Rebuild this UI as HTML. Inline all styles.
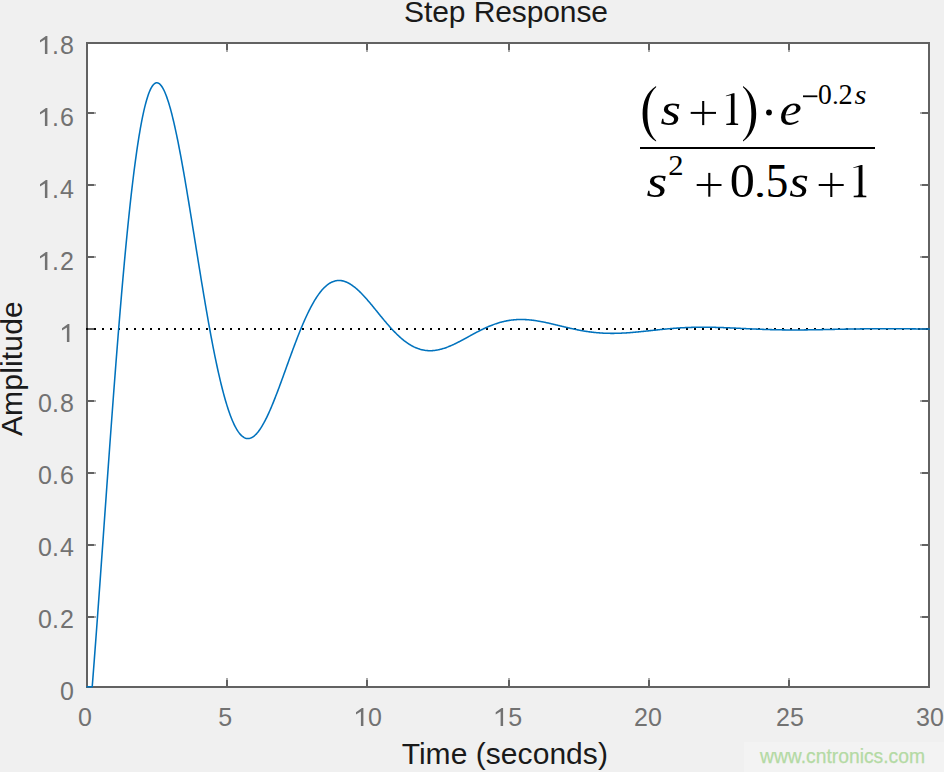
<!DOCTYPE html>
<html><head><meta charset="utf-8"><style>
html,body{margin:0;padding:0;background:#f0f0f0;width:944px;height:772px;overflow:hidden}
svg{display:block}
.tl{font-family:"Liberation Sans",sans-serif;font-size:25px;fill:#727272}
.tt{font-family:"Liberation Sans",sans-serif;font-size:30px;fill:#1a1a1a}
.wm{font-family:"Liberation Sans",sans-serif;font-size:19.3px;fill:#b4daa4;stroke:#b4daa4;stroke-width:0.25px}
.fm text{font-family:"Liberation Serif",serif} .fm{fill:#000}
</style></head><body>
<svg width="944" height="772" viewBox="0 0 944 772">
<rect x="86" y="42" width="844" height="646" fill="#ffffff"/>
<rect x="226" y="680" width="2" height="6" fill="#626262"/>
<rect x="226" y="678" width="2" height="2" fill="#aaaaaa"/>
<rect x="226" y="44" width="2" height="6" fill="#626262"/>
<rect x="226" y="50" width="2" height="2" fill="#aaaaaa"/>
<rect x="366" y="680" width="2" height="6" fill="#626262"/>
<rect x="366" y="678" width="2" height="2" fill="#aaaaaa"/>
<rect x="366" y="44" width="2" height="6" fill="#626262"/>
<rect x="366" y="50" width="2" height="2" fill="#aaaaaa"/>
<rect x="508" y="680" width="2" height="6" fill="#626262"/>
<rect x="508" y="678" width="2" height="2" fill="#aaaaaa"/>
<rect x="508" y="44" width="2" height="6" fill="#626262"/>
<rect x="508" y="50" width="2" height="2" fill="#aaaaaa"/>
<rect x="648" y="680" width="2" height="6" fill="#626262"/>
<rect x="648" y="678" width="2" height="2" fill="#aaaaaa"/>
<rect x="648" y="44" width="2" height="6" fill="#626262"/>
<rect x="648" y="50" width="2" height="2" fill="#aaaaaa"/>
<rect x="788" y="680" width="2" height="6" fill="#626262"/>
<rect x="788" y="678" width="2" height="2" fill="#aaaaaa"/>
<rect x="788" y="44" width="2" height="6" fill="#626262"/>
<rect x="788" y="50" width="2" height="2" fill="#aaaaaa"/>
<rect x="88" y="616" width="6" height="2" fill="#626262"/>
<rect x="94" y="616" width="2" height="2" fill="#aaaaaa"/>
<rect x="922" y="616" width="6" height="2" fill="#626262"/>
<rect x="920" y="616" width="2" height="2" fill="#aaaaaa"/>
<rect x="88" y="544" width="6" height="2" fill="#626262"/>
<rect x="94" y="544" width="2" height="2" fill="#aaaaaa"/>
<rect x="922" y="544" width="6" height="2" fill="#626262"/>
<rect x="920" y="544" width="2" height="2" fill="#aaaaaa"/>
<rect x="88" y="472" width="6" height="2" fill="#626262"/>
<rect x="94" y="472" width="2" height="2" fill="#aaaaaa"/>
<rect x="922" y="472" width="6" height="2" fill="#626262"/>
<rect x="920" y="472" width="2" height="2" fill="#aaaaaa"/>
<rect x="88" y="400" width="6" height="2" fill="#626262"/>
<rect x="94" y="400" width="2" height="2" fill="#aaaaaa"/>
<rect x="922" y="400" width="6" height="2" fill="#626262"/>
<rect x="920" y="400" width="2" height="2" fill="#aaaaaa"/>
<rect x="88" y="328" width="6" height="2" fill="#626262"/>
<rect x="94" y="328" width="2" height="2" fill="#aaaaaa"/>
<rect x="922" y="328" width="6" height="2" fill="#626262"/>
<rect x="920" y="328" width="2" height="2" fill="#aaaaaa"/>
<rect x="88" y="256" width="6" height="2" fill="#626262"/>
<rect x="94" y="256" width="2" height="2" fill="#aaaaaa"/>
<rect x="922" y="256" width="6" height="2" fill="#626262"/>
<rect x="920" y="256" width="2" height="2" fill="#aaaaaa"/>
<rect x="88" y="184" width="6" height="2" fill="#626262"/>
<rect x="94" y="184" width="2" height="2" fill="#aaaaaa"/>
<rect x="922" y="184" width="6" height="2" fill="#626262"/>
<rect x="920" y="184" width="2" height="2" fill="#aaaaaa"/>
<rect x="88" y="112" width="6" height="2" fill="#626262"/>
<rect x="94" y="112" width="2" height="2" fill="#aaaaaa"/>
<rect x="922" y="112" width="6" height="2" fill="#626262"/>
<rect x="920" y="112" width="2" height="2" fill="#aaaaaa"/>
<rect x="87" y="43" width="842" height="644" fill="none" stroke="#626262" stroke-width="2"/>
<line x1="86" y1="329" x2="928" y2="329" stroke="#000" stroke-width="2" stroke-dasharray="2 6"/>
<polyline points="86.60,686.80 92.21,686.80 92.21,686.80 92.91,677.86 93.61,668.81 94.31,659.66 95.00,650.43 95.70,641.11 96.40,631.72 97.10,622.25 97.80,612.72 98.49,603.14 99.19,593.51 99.89,583.83 100.59,574.12 101.28,564.37 101.98,554.60 102.68,544.82 103.38,535.02 104.07,525.22 104.77,515.41 105.47,505.62 106.17,495.84 106.86,486.07 107.56,476.33 108.26,466.62 108.96,456.95 109.66,447.31 110.35,437.72 111.05,428.19 111.75,418.71 112.45,409.29 113.14,399.94 113.84,390.66 114.54,381.46 115.24,372.34 115.93,363.31 116.63,354.37 117.33,345.52 118.03,336.77 118.72,328.13 119.42,319.59 120.12,311.16 120.82,302.85 121.52,294.66 122.21,286.59 122.91,278.64 123.61,270.83 124.31,263.14 125.00,255.59 125.70,248.19 126.40,240.92 127.10,233.79 127.79,226.81 128.49,219.98 129.19,213.31 129.89,206.78 130.58,200.41 131.28,194.20 131.98,188.15 132.68,182.26 133.38,176.53 134.07,170.97 134.77,165.57 135.47,160.34 136.17,155.28 136.86,150.39 137.56,145.67 138.26,141.12 138.96,136.74 139.65,132.53 140.35,128.49 141.05,124.63 141.75,120.94 142.45,117.43 143.14,114.08 143.84,110.91 144.54,107.92 145.24,105.10 145.93,102.44 146.63,99.97 147.33,97.66 148.03,95.52 148.72,93.55 149.42,91.76 150.12,90.13 150.82,88.66 151.51,87.36 152.21,86.23 152.91,85.26 153.61,84.45 154.31,83.80 155.00,83.31 155.70,82.98 156.40,82.80 157.10,82.78 157.79,82.90 158.49,83.18 159.19,83.60 159.89,84.17 160.58,84.89 161.28,85.74 161.98,86.73 162.68,87.86 163.37,89.13 164.07,90.52 164.77,92.05 165.47,93.70 166.17,95.47 166.86,97.37 167.56,99.38 168.26,101.52 168.96,103.76 169.65,106.12 170.35,108.58 171.05,111.15 171.75,113.82 172.44,116.59 173.14,119.46 173.84,122.41 174.54,125.46 175.23,128.60 175.93,131.82 176.63,135.12 177.33,138.51 178.03,141.96 178.72,145.49 179.42,149.09 180.12,152.75 180.82,156.48 181.51,160.26 182.21,164.11 182.91,168.00 183.61,171.95 184.30,175.95 185.00,179.99 185.70,184.07 186.40,188.19 187.09,192.35 187.79,196.54 188.49,200.75 189.19,205.00 189.89,209.27 190.58,213.56 191.28,217.87 191.98,222.19 192.68,226.52 193.37,230.87 194.07,235.22 194.77,239.57 195.47,243.93 196.16,248.28 196.86,252.63 197.56,256.98 198.26,261.31 198.95,265.63 199.65,269.94 200.35,274.23 201.05,278.51 201.75,282.76 202.44,286.98 203.14,291.18 203.84,295.35 204.54,299.49 205.23,303.60 205.93,307.67 206.63,311.71 207.33,315.70 208.02,319.66 208.72,323.57 209.42,327.44 210.12,331.26 210.82,335.03 211.51,338.75 212.21,342.42 212.91,346.04 213.61,349.60 214.30,353.10 215.00,356.55 215.70,359.93 216.40,363.26 217.09,366.52 217.79,369.73 218.49,372.86 219.19,375.93 219.88,378.94 220.58,381.87 221.28,384.74 221.98,387.54 222.68,390.27 223.37,392.92 224.07,395.51 224.77,398.02 225.47,400.46 226.16,402.82 226.86,405.11 227.56,407.33 228.26,409.47 228.95,411.53 229.65,413.52 230.35,415.43 231.05,417.27 231.74,419.03 232.44,420.71 233.14,422.31 233.84,423.84 234.54,425.29 235.23,426.66 235.93,427.96 236.63,429.18 237.33,430.32 238.02,431.39 238.72,432.38 239.42,433.29 240.12,434.13 240.81,434.90 241.51,435.59 242.21,436.21 242.91,436.75 243.60,437.22 244.30,437.62 245.00,437.95 245.70,438.20 246.40,438.39 247.09,438.51 247.79,438.55 248.49,438.54 249.19,438.45 249.88,438.30 250.58,438.08 251.28,437.80 251.98,437.45 252.67,437.04 253.37,436.57 254.07,436.05 254.77,435.46 255.46,434.81 256.16,434.11 256.86,433.35 257.56,432.54 258.26,431.67 258.95,430.75 259.65,429.78 260.35,428.76 261.05,427.69 261.74,426.58 262.44,425.41 263.14,424.21 263.84,422.96 264.53,421.66 265.23,420.33 265.93,418.96 266.63,417.55 267.32,416.10 268.02,414.62 268.72,413.10 269.42,411.55 270.12,409.97 270.81,408.35 271.51,406.71 272.21,405.05 272.91,403.35 273.60,401.63 274.30,399.89 275.00,398.13 275.70,396.34 276.39,394.54 277.09,392.72 277.79,390.88 278.49,389.02 279.19,387.16 279.88,385.28 280.58,383.39 281.28,381.48 281.98,379.57 282.67,377.66 283.37,375.73 284.07,373.81 284.77,371.87 285.46,369.94 286.16,368.00 286.86,366.07 287.56,364.13 288.25,362.20 288.95,360.27 289.65,358.35 290.35,356.43 291.05,354.52 291.74,352.62 292.44,350.72 293.14,348.84 293.84,346.97 294.53,345.11 295.23,343.26 295.93,341.43 296.63,339.61 297.32,337.81 298.02,336.02 298.72,334.25 299.42,332.51 300.11,330.78 300.81,329.07 301.51,327.38 302.21,325.71 302.91,324.07 303.60,322.45 304.30,320.86 305.00,319.28 305.70,317.74 306.39,316.22 307.09,314.73 307.79,313.26 308.49,311.82 309.18,310.41 309.88,309.03 310.58,307.68 311.28,306.36 311.97,305.07 312.67,303.81 313.37,302.58 314.07,301.38 314.77,300.22 315.46,299.08 316.16,297.98 316.86,296.91 317.56,295.88 318.25,294.87 318.95,293.90 319.65,292.97 320.35,292.07 321.04,291.20 321.74,290.37 322.44,289.57 323.14,288.80 323.83,288.07 324.53,287.37 325.23,286.71 325.93,286.08 326.63,285.48 327.32,284.92 328.02,284.40 328.72,283.90 329.42,283.45 330.11,283.02 330.81,282.63 331.51,282.27 332.21,281.95 332.90,281.65 333.60,281.39 334.30,281.17 335.00,280.97 335.69,280.81 336.39,280.68 337.09,280.58 337.79,280.51 338.49,280.47 339.18,280.46 339.88,280.49 340.58,280.54 341.28,280.62 341.97,280.73 342.67,280.87 343.37,281.03 344.07,281.23 344.76,281.45 345.46,281.69 346.16,281.97 346.86,282.27 347.56,282.59 348.25,282.94 348.95,283.31 349.65,283.71 350.35,284.12 351.04,284.57 351.74,285.03 352.44,285.51 353.14,286.02 353.83,286.54 354.53,287.09 355.23,287.65 355.93,288.24 356.62,288.84 357.32,289.45 358.02,290.09 358.72,290.74 359.42,291.41 360.11,292.09 360.81,292.78 361.51,293.49 362.21,294.21 362.90,294.95 363.60,295.69 364.30,296.45 365.00,297.22 365.69,298.00 366.39,298.79 367.09,299.58 367.79,300.39 368.48,301.20 369.18,302.02 369.88,302.85 370.58,303.68 371.28,304.52 371.97,305.36 372.67,306.21 373.37,307.06 374.07,307.91 374.76,308.77 375.46,309.62 376.16,310.48 376.86,311.34 377.55,312.20 378.25,313.06 378.95,313.92 379.65,314.78 380.34,315.64 381.04,316.49 381.74,317.34 382.44,318.19 383.14,319.03 383.83,319.87 384.53,320.71 385.23,321.54 385.93,322.36 386.62,323.18 387.32,323.99 388.02,324.79 388.72,325.59 389.41,326.38 390.11,327.16 390.81,327.94 391.51,328.70 392.20,329.46 392.90,330.20 393.60,330.94 394.30,331.66 395.00,332.38 395.69,333.08 396.39,333.77 397.09,334.46 397.79,335.13 398.48,335.78 399.18,336.43 399.88,337.06 400.58,337.68 401.27,338.29 401.97,338.88 402.67,339.47 403.37,340.03 404.06,340.59 404.76,341.13 405.46,341.65 406.16,342.16 406.86,342.66 407.55,343.14 408.25,343.61 408.95,344.07 409.65,344.51 410.34,344.93 411.04,345.34 411.74,345.73 412.44,346.11 413.13,346.47 413.83,346.82 414.53,347.16 415.23,347.47 415.93,347.78 416.62,348.07 417.32,348.34 418.02,348.60 418.72,348.84 419.41,349.06 420.11,349.28 420.81,349.47 421.51,349.66 422.20,349.82 422.90,349.98 423.60,350.11 424.30,350.24 424.99,350.35 425.69,350.44 426.39,350.52 427.09,350.59 427.79,350.64 428.48,350.68 429.18,350.70 429.88,350.71 430.58,350.71 431.27,350.69 431.97,350.66 432.67,350.62 433.37,350.57 434.06,350.50 434.76,350.42 435.46,350.33 436.16,350.23 436.85,350.11 437.55,349.98 438.25,349.85 438.95,349.70 439.65,349.54 440.34,349.37 441.04,349.19 441.74,349.00 442.44,348.80 443.13,348.59 443.83,348.37 444.53,348.14 445.23,347.90 445.92,347.65 446.62,347.40 447.32,347.14 448.02,346.87 448.71,346.59 449.41,346.30 450.11,346.01 450.81,345.71 451.51,345.41 452.20,345.10 452.90,344.78 453.60,344.45 454.30,344.13 454.99,343.79 455.69,343.45 456.39,343.11 457.09,342.76 457.78,342.41 458.48,342.05 459.18,341.69 459.88,341.33 460.57,340.97 461.27,340.60 461.97,340.23 462.67,339.85 463.37,339.48 464.06,339.10 464.76,338.72 465.46,338.34 466.16,337.96 466.85,337.58 467.55,337.20 468.25,336.82 468.95,336.44 469.64,336.05 470.34,335.67 471.04,335.29 471.74,334.91 472.43,334.53 473.13,334.15 473.83,333.78 474.53,333.40 475.23,333.03 475.92,332.66 476.62,332.30 477.32,331.93 478.02,331.57 478.71,331.21 479.41,330.85 480.11,330.50 480.81,330.15 481.50,329.80 482.20,329.46 482.90,329.13 483.60,328.79 484.30,328.46 484.99,328.14 485.69,327.82 486.39,327.50 487.09,327.19 487.78,326.89 488.48,326.58 489.18,326.29 489.88,326.00 490.57,325.72 491.27,325.44 491.97,325.16 492.67,324.90 493.36,324.63 494.06,324.38 494.76,324.13 495.46,323.89 496.16,323.65 496.85,323.42 497.55,323.19 498.25,322.98 498.95,322.76 499.64,322.56 500.34,322.36 501.04,322.17 501.74,321.98 502.43,321.80 503.13,321.63 503.83,321.47 504.53,321.31 505.22,321.16 505.92,321.01 506.62,320.87 507.32,320.74 508.02,320.62 508.71,320.50 509.41,320.39 510.11,320.28 510.81,320.19 511.50,320.09 512.20,320.01 512.90,319.93 513.60,319.86 514.29,319.80 514.99,319.74 515.69,319.69 516.39,319.64 517.08,319.60 517.78,319.57 518.48,319.54 519.18,319.52 519.88,319.51 520.57,319.50 521.27,319.50 521.97,319.50 522.67,319.51 523.36,319.53 524.06,319.55 524.76,319.57 525.46,319.61 526.15,319.64 526.85,319.69 527.55,319.74 528.25,319.79 528.94,319.85 529.64,319.91 530.34,319.98 531.04,320.05 531.74,320.13 532.43,320.21 533.13,320.30 533.83,320.39 534.53,320.49 535.22,320.58 535.92,320.69 536.62,320.80 537.32,320.91 538.01,321.02 538.71,321.14 539.41,321.26 540.11,321.39 540.80,321.51 541.50,321.64 542.20,321.78 542.90,321.92 543.60,322.06 544.29,322.20 544.99,322.34 545.69,322.49 546.39,322.64 547.08,322.79 547.78,322.94 548.48,323.10 549.18,323.26 549.87,323.42 550.57,323.58 551.27,323.74 551.97,323.90 552.67,324.07 553.36,324.23 554.06,324.40 554.76,324.56 555.46,324.73 556.15,324.90 556.85,325.07 557.55,325.24 558.25,325.41 558.94,325.58 559.64,325.75 560.34,325.92 561.04,326.09 561.73,326.26 562.43,326.43 563.13,326.59 563.83,326.76 564.53,326.93 565.22,327.10 565.92,327.26 566.62,327.43 567.32,327.59 568.01,327.75 568.71,327.92 569.41,328.08 570.11,328.23 570.80,328.39 571.50,328.55 572.20,328.70 572.90,328.86 573.59,329.01 574.29,329.16 574.99,329.30 575.69,329.45 576.39,329.59 577.08,329.73 577.78,329.87 578.48,330.01 579.18,330.14 579.87,330.28 580.57,330.41 581.27,330.54 581.97,330.66 582.66,330.78 583.36,330.90 584.06,331.02 584.76,331.14 585.45,331.25 586.15,331.36 586.85,331.46 587.55,331.57 588.25,331.67 588.94,331.77 589.64,331.86 590.34,331.96 591.04,332.05 591.73,332.13 592.43,332.22 593.13,332.30 593.83,332.38 594.52,332.45 595.22,332.52 595.92,332.59 596.62,332.66 597.31,332.72 598.01,332.78 598.71,332.84 599.41,332.89 600.11,332.94 600.80,332.99 601.50,333.04 602.20,333.08 602.90,333.12 603.59,333.16 604.29,333.19 604.99,333.22 605.69,333.25 606.38,333.27 607.08,333.29 607.78,333.31 608.48,333.33 609.17,333.34 609.87,333.35 610.57,333.36 611.27,333.36 611.97,333.37 612.66,333.37 613.36,333.36 614.06,333.36 614.76,333.35 615.45,333.34 616.15,333.33 616.85,333.31 617.55,333.29 618.24,333.27 618.94,333.25 619.64,333.23 620.34,333.20 621.04,333.17 621.73,333.14 622.43,333.10 623.13,333.07 623.83,333.03 624.52,332.99 625.22,332.95 625.92,332.91 626.62,332.86 627.31,332.82 628.01,332.77 628.71,332.72 629.41,332.67 630.10,332.61 630.80,332.56 631.50,332.50 632.20,332.44 632.90,332.39 633.59,332.33 634.29,332.26 634.99,332.20 635.69,332.14 636.38,332.07 637.08,332.01 637.78,331.94 638.48,331.87 639.17,331.80 639.87,331.73 640.57,331.66 641.27,331.59 641.96,331.52 642.66,331.45 643.36,331.38 644.06,331.30 644.76,331.23 645.45,331.16 646.15,331.08 646.85,331.01 647.55,330.93 648.24,330.86 648.94,330.78 649.64,330.71 650.34,330.63 651.03,330.56 651.73,330.48 652.43,330.40 653.13,330.33 653.82,330.25 654.52,330.18 655.22,330.11 655.92,330.03 656.62,329.96 657.31,329.88 658.01,329.81 658.71,329.74 659.41,329.67 660.10,329.59 660.80,329.52 661.50,329.45 662.20,329.38 662.89,329.31 663.59,329.25 664.29,329.18 664.99,329.11 665.68,329.05 666.38,328.98 667.08,328.92 667.78,328.85 668.48,328.79 669.17,328.73 669.87,328.67 670.57,328.61 671.27,328.55 671.96,328.49 672.66,328.44 673.36,328.38 674.06,328.33 674.75,328.27 675.45,328.22 676.15,328.17 676.85,328.12 677.54,328.08 678.24,328.03 678.94,327.98 679.64,327.94 680.34,327.89 681.03,327.85 681.73,327.81 682.43,327.77 683.13,327.73 683.82,327.70 684.52,327.66 685.22,327.63 685.92,327.60 686.61,327.56 687.31,327.53 688.01,327.51 688.71,327.48 689.41,327.45 690.10,327.43 690.80,327.40 691.50,327.38 692.20,327.36 692.89,327.34 693.59,327.32 694.29,327.31 694.99,327.29 695.68,327.28 696.38,327.26 697.08,327.25 697.78,327.24 698.47,327.23 699.17,327.23 699.87,327.22 700.57,327.21 701.27,327.21 701.96,327.21 702.66,327.20 703.36,327.20 704.06,327.20 704.75,327.21 705.45,327.21 706.15,327.21 706.85,327.22 707.54,327.22 708.24,327.23 708.94,327.24 709.64,327.25 710.33,327.26 711.03,327.27 711.73,327.28 712.43,327.30 713.13,327.31 713.82,327.33 714.52,327.34 715.22,327.36 715.92,327.38 716.61,327.40 717.31,327.42 718.01,327.44 718.71,327.46 719.40,327.48 720.10,327.50 720.80,327.53 721.50,327.55 722.19,327.57 722.89,327.60 723.59,327.63 724.29,327.65 724.99,327.68 725.68,327.71 726.38,327.73 727.08,327.76 727.78,327.79 728.47,327.82 729.17,327.85 729.87,327.88 730.57,327.91 731.26,327.94 731.96,327.97 732.66,328.01 733.36,328.04 734.05,328.07 734.75,328.10 735.45,328.14 736.15,328.17 736.85,328.20 737.54,328.23 738.24,328.27 738.94,328.30 739.64,328.33 740.33,328.37 741.03,328.40 741.73,328.43 742.43,328.47 743.12,328.50 743.82,328.54 744.52,328.57 745.22,328.60 745.91,328.64 746.61,328.67 747.31,328.70 748.01,328.73 748.71,328.77 749.40,328.80 750.10,328.83 750.80,328.86 751.50,328.89 752.19,328.93 752.89,328.96 753.59,328.99 754.29,329.02 754.98,329.05 755.68,329.08 756.38,329.11 757.08,329.14 757.78,329.17 758.47,329.19 759.17,329.22 759.87,329.25 760.57,329.28 761.26,329.30 761.96,329.33 762.66,329.36 763.36,329.38 764.05,329.41 764.75,329.43 765.45,329.45 766.15,329.48 766.84,329.50 767.54,329.52 768.24,329.54 768.94,329.56 769.64,329.59 770.33,329.61 771.03,329.63 771.73,329.64 772.43,329.66 773.12,329.68 773.82,329.70 774.52,329.71 775.22,329.73 775.91,329.75 776.61,329.76 777.31,329.77 778.01,329.79 778.70,329.80 779.40,329.81 780.10,329.83 780.80,329.84 781.50,329.85 782.19,329.86 782.89,329.87 783.59,329.88 784.29,329.89 784.98,329.89 785.68,329.90 786.38,329.91 787.08,329.91 787.77,329.92 788.47,329.92 789.17,329.93 789.87,329.93 790.56,329.93 791.26,329.94 791.96,329.94 792.66,329.94 793.36,329.94 794.05,329.94 794.75,329.94 795.45,329.94 796.15,329.94 796.84,329.94 797.54,329.94 798.24,329.93 798.94,329.93 799.63,329.93 800.33,329.92 801.03,329.92 801.73,329.92 802.42,329.91 803.12,329.90 803.82,329.90 804.52,329.89 805.22,329.88 805.91,329.88 806.61,329.87 807.31,329.86 808.01,329.85 808.70,329.84 809.40,329.83 810.10,329.83 810.80,329.82 811.49,329.81 812.19,329.79 812.89,329.78 813.59,329.77 814.28,329.76 814.98,329.75 815.68,329.74 816.38,329.73 817.08,329.71 817.77,329.70 818.47,329.69 819.17,329.68 819.87,329.66 820.56,329.65 821.26,329.64 821.96,329.62 822.66,329.61 823.35,329.59 824.05,329.58 824.75,329.57 825.45,329.55 826.15,329.54 826.84,329.52 827.54,329.51 828.24,329.49 828.94,329.48 829.63,329.46 830.33,329.45 831.03,329.43 831.73,329.42 832.42,329.40 833.12,329.39 833.82,329.37 834.52,329.36 835.21,329.34 835.91,329.33 836.61,329.31 837.31,329.30 838.01,329.29 838.70,329.27 839.40,329.26 840.10,329.24 840.80,329.23 841.49,329.21 842.19,329.20 842.89,329.18 843.59,329.17 844.28,329.16 844.98,329.14 845.68,329.13 846.38,329.12 847.07,329.10 847.77,329.09 848.47,329.08 849.17,329.06 849.87,329.05 850.56,329.04 851.26,329.03 851.96,329.02 852.66,329.00 853.35,328.99 854.05,328.98 854.75,328.97 855.45,328.96 856.14,328.95 856.84,328.94 857.54,328.93 858.24,328.92 858.93,328.91 859.63,328.90 860.33,328.89 861.03,328.88 861.73,328.87 862.42,328.86 863.12,328.85 863.82,328.85 864.52,328.84 865.21,328.83 865.91,328.82 866.61,328.82 867.31,328.81 868.00,328.80 868.70,328.80 869.40,328.79 870.10,328.79 870.79,328.78 871.49,328.78 872.19,328.77 872.89,328.77 873.59,328.76 874.28,328.76 874.98,328.75 875.68,328.75 876.38,328.75 877.07,328.74 877.77,328.74 878.47,328.74 879.17,328.74 879.86,328.73 880.56,328.73 881.26,328.73 881.96,328.73 882.65,328.73 883.35,328.73 884.05,328.73 884.75,328.73 885.45,328.73 886.14,328.73 886.84,328.73 887.54,328.73 888.24,328.73 888.93,328.73 889.63,328.73 890.33,328.73 891.03,328.73 891.72,328.73 892.42,328.74 893.12,328.74 893.82,328.74 894.52,328.74 895.21,328.75 895.91,328.75 896.61,328.75 897.31,328.76 898.00,328.76 898.70,328.76 899.40,328.77 900.10,328.77 900.79,328.78 901.49,328.78 902.19,328.78 902.89,328.79 903.58,328.79 904.28,328.80 904.98,328.80 905.68,328.81 906.38,328.81 907.07,328.82 907.77,328.82 908.47,328.83 909.17,328.84 909.86,328.84 910.56,328.85 911.26,328.85 911.96,328.86 912.65,328.86 913.35,328.87 914.05,328.88 914.75,328.88 915.44,328.89 916.14,328.90 916.84,328.90 917.54,328.91 918.24,328.92 918.93,328.92 919.63,328.93 920.33,328.94 921.03,328.94 921.72,328.95 922.42,328.95 923.12,328.96 923.82,328.97 924.51,328.97 925.21,328.98 925.91,328.99 926.61,328.99 927.30,329.00 928.00,329.01 928.70,329.01 930,329.01" fill="none" stroke="#0072BD" stroke-width="1.55" stroke-linejoin="round"/>
<g class="tl"><polygon points="44.90,54.00 47.40,54.00 47.40,36.10 45.90,36.10 40.00,40.30 40.00,42.50 44.90,39.50"/>
<text x="52.02" y="54">.</text>
<text x="60.05" y="54">8</text>
<polygon points="44.90,126.00 47.40,126.00 47.40,108.10 45.90,108.10 40.00,112.30 40.00,114.50 44.90,111.50"/>
<text x="52.02" y="126">.</text>
<text x="59.96" y="126">6</text>
<polygon points="44.90,198.00 47.40,198.00 47.40,180.10 45.90,180.10 40.00,184.30 40.00,186.50 44.90,183.50"/>
<text x="52.02" y="198">.</text>
<text x="60.12" y="198">4</text>
<polygon points="44.90,270.00 47.40,270.00 47.40,252.10 45.90,252.10 40.00,256.30 40.00,258.50 44.90,255.50"/>
<text x="52.02" y="270">.</text>
<text x="60.05" y="270">2</text>
<polygon points="66.90,342.00 69.40,342.00 69.40,324.10 67.90,324.10 62.00,328.30 62.00,330.50 66.90,327.50"/>
<text x="38.05" y="412">0</text>
<text x="52.02" y="412">.</text>
<text x="60.05" y="412">8</text>
<text x="38.05" y="484">0</text>
<text x="52.02" y="484">.</text>
<text x="59.96" y="484">6</text>
<text x="38.05" y="556">0</text>
<text x="52.02" y="556">.</text>
<text x="60.12" y="556">4</text>
<text x="38.05" y="628">0</text>
<text x="52.02" y="628">.</text>
<text x="60.05" y="628">2</text>
<text x="60.05" y="700">0</text>
<text x="78.05" y="726">0</text>
<text x="218.27" y="726">5</text>
<polygon points="360.90,726.00 363.40,726.00 363.40,708.10 361.90,708.10 356.00,712.30 356.00,714.50 360.90,711.50"/>
<text x="368.05" y="726">0</text>
<polygon points="500.60,726.00 503.10,726.00 503.10,708.10 501.60,708.10 495.70,712.30 495.70,714.50 500.60,711.50"/>
<text x="508.37" y="726">5</text>
<text x="634.05" y="726">2</text>
<text x="648.05" y="726">0</text>
<text x="776.05" y="726">2</text>
<text x="790.08" y="726">5</text>
<text x="916.12" y="726">3</text>
<text x="930.05" y="726">0</text></g>
<text transform="translate(506,21.7) scale(1,1)" text-anchor="middle" class="tt" letter-spacing="-0.1">Step Response</text>
<text transform="translate(504.8,764) scale(1,1)" text-anchor="middle" class="tt" letter-spacing="0.05">Time (seconds)</text>
<text transform="translate(22,368.6) rotate(-90) scale(1,1)" text-anchor="middle" class="tt" letter-spacing="0.17">Amplitude</text>
<rect x="744" y="742" width="200" height="30" fill="#f3f3f3"/>
<text x="760" y="763" class="wm">www.cntronics.com</text>
<g class="fm"><path d="M 656.10 86.00 C 646.65 91.88, 642.60 102.00, 642.60 113.80 C 642.60 125.60, 646.65 135.72, 656.10 141.60 L 656.10 140.40 C 649.58 134.59, 647.40 125.04, 647.40 113.80 C 647.40 102.56, 649.58 93.01, 656.10 87.20 Z"/>
<text transform="translate(660.57,124.63) scale(1.132,1)" font-size="46.57" font-style="italic">s</text>
<rect x="690.70" y="111.90" width="25.30" height="2.0"/><rect x="702.15" y="101.00" width="2.1" height="24.10"/>
<polygon points="734.52,93.20 734.52,122.23 735.02,123.35 738.15,123.73 738.15,125.10 726.27,125.10 726.27,123.73 730.02,123.35 730.90,122.23 730.90,95.27 725.90,96.33 725.90,95.69 733.15,93.20"/>
<path d="M 743.00 86.00 C 752.24 91.86, 756.20 101.94, 756.20 113.70 C 756.20 125.46, 752.24 135.54, 743.00 141.40 L 743.00 140.20 C 749.30 134.42, 751.40 124.90, 751.40 113.70 C 751.40 102.50, 749.30 92.98, 743.00 87.20 Z"/>
<circle cx="769" cy="112.5" r="2.9"/>
<text transform="translate(779.55,124.63) scale(1.055,1)" font-size="47.40" font-style="italic">e</text>
<rect x="803" y="95.4" width="14.4" height="1.8"/>
<text transform="translate(818.05,103.92) scale(0.970,1)" font-size="28.44" font-style="normal">0</text>
<text transform="translate(831.91,103.78) scale(1.185,1)" font-size="22.88" font-style="normal">.</text>
<text transform="translate(838.45,103.90) scale(0.996,1)" font-size="28.55" font-style="normal">2</text>
<text transform="translate(854.53,103.92) scale(1.115,1)" font-size="27.65" font-style="italic">s</text>
<rect x="640" y="147" width="235" height="2"/>
<text transform="translate(646.46,196.73) scale(1.151,1)" font-size="46.57" font-style="italic">s</text>
<text transform="translate(668.25,175.30) scale(1.047,1)" font-size="29.31" font-style="normal">2</text>
<rect x="696.70" y="184.00" width="24.80" height="2.0"/><rect x="708.25" y="172.90" width="2.1" height="23.80"/>
<text transform="translate(729.69,196.82) scale(1.043,1)" font-size="48.15" font-style="normal">0</text>
<text transform="translate(753.70,196.79) scale(1.372,1)" font-size="36.44" font-style="normal">.</text>
<text transform="translate(765.78,196.81) scale(0.924,1)" font-size="48.87" font-style="normal">5</text>
<text transform="translate(789.19,196.83) scale(1.078,1)" font-size="46.78" font-style="italic">s</text>
<rect x="818.70" y="184.00" width="25.00" height="2.0"/><rect x="830.25" y="172.90" width="2.1" height="24.10"/>
<polygon points="862.48,164.90 862.48,194.29 863.01,195.42 866.33,195.81 866.33,197.20 853.70,197.20 853.70,195.81 857.69,195.42 858.62,194.29 858.62,167.00 853.30,168.07 853.30,167.42 861.01,164.90"/></g>
</svg>
</body></html>
